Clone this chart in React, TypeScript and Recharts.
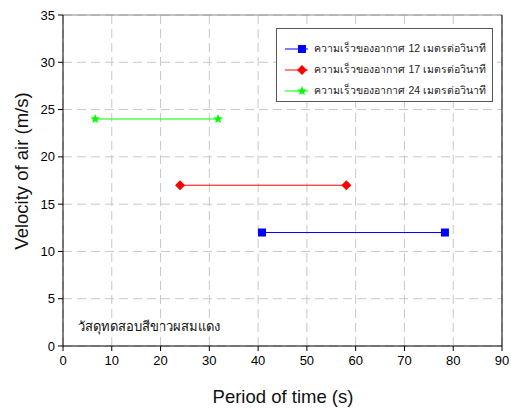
import React from "react";
import {CartesianGrid, Line, LineChart, ReferenceLine, XAxis, YAxis} from "recharts";

const xTicks = [0, 10, 20, 30, 40, 50, 60, 70, 80, 90];
const yTicks = [0, 5, 10, 15, 20, 25, 30, 35];

const blueTimes = [40.8, 78.3];
const blueSpeed = [12, 12];
const redTimes = [24.0, 58.1];
const redSpeed = [17, 17];
const greenTimes = [6.6, 31.8];
const greenSpeed = [24, 24];

const seriesNames = [
    "ความเร็วของอากาศ 12 เมตรต่อวินาที",
    "ความเร็วของอากาศ 17 เมตรต่อวินาที",
    "ความเร็วของอากาศ 24 เมตรต่อวินาที",
];
const seriesColors = ["#0000ff", "#ff0000", "#00ff00"];

const toPoints = (xs: number[], ys: number[]) => xs.map((t, i) => ({ t, v: ys[i] }));

const Square = ({ cx, cy, fill }: any) => (
    <rect x={cx - 4} y={cy - 4} width={8} height={8} fill={fill} />
);
const Diamond = ({ cx, cy, fill }: any) => (
    <polygon points={`${cx},${cy - 5} ${cx + 5},${cy} ${cx},${cy + 5} ${cx - 5},${cy}`} fill={fill} />
);
const Star = ({ cx, cy, fill }: any) => {
    const pts: string[] = [];
    for (let i = 0; i < 10; i++) {
        const r = i % 2 === 0 ? 5 : 2.2;
        const a = -Math.PI / 2 + (i * Math.PI) / 5;
        pts.push(`${cx + r * Math.cos(a)},${cy + r * Math.sin(a)}`);
    }
    return <polygon points={pts.join(" ")} fill={fill} />;
};
const markers = [Square, Diamond, Star];

const LegendBox = () => (
    <div style={{ position: "absolute", left: 276, top: 28, width: 217, height: 74, boxSizing: "border-box", border: "1px solid #555", background: "#fff", padding: "9px 6px 6px 8px" }}>
        {seriesNames.map((name, i) => {
            const M = markers[i];
            return (
                <div key={name} style={{ display: "flex", alignItems: "center", height: 21 }}>
                    <svg width={36} height={12} style={{ marginRight: 6 }}>
                        <line x1={0} y1={6} x2={34} y2={6} stroke={seriesColors[i]} strokeWidth={1} />
                        <M cx={17} cy={6} fill={seriesColors[i]} />
                    </svg>
                    <span style={{ fontSize: 10.5, color: "#222", whiteSpace: "nowrap" }}>{name}</span>
                </div>
            );
        })}
    </div>
);

export default function App() {
    const font = "Arial, 'Liberation Sans', sans-serif";
    return (
        <div style={{ position: "absolute", left: 0, top: 0, width: 511, height: 409, background: "#fff", fontFamily: font }}>
            <LineChart width={511} height={409} margin={{ top: 15, right: 9, bottom: 13, left: 13 }}>
                <CartesianGrid strokeDasharray="9 5" stroke="#c8c8c8" />
                <XAxis
                    type="number"
                    dataKey="t"
                    domain={[0, 90]}
                    ticks={xTicks}
                    allowDataOverflow
                    stroke="#000"
                    tickSize={5}
                    tickMargin={5}
                    tick={{ fill: "#000", fontSize: 13, fontFamily: font }}
                    height={50}
                />
                <YAxis
                    type="number"
                    dataKey="v"
                    domain={[0, 35]}
                    ticks={yTicks}
                    width={50}
                    stroke="#000"
                    tickSize={5}
                    tickMargin={3}
                    tick={{ fill: "#000", fontSize: 13, fontFamily: font }}
                />
                <ReferenceLine y={35} stroke="#888" />
                <ReferenceLine x={90} stroke="#000" />
                <Line data={toPoints(blueTimes, blueSpeed)} dataKey="v" stroke={seriesColors[0]} strokeWidth={1}
                      dot={(p: any) => <Square key={p.index} cx={p.cx} cy={p.cy} fill={seriesColors[0]} />}
                      isAnimationActive={false} />
                <Line data={toPoints(redTimes, redSpeed)} dataKey="v" stroke={seriesColors[1]} strokeWidth={1}
                      dot={(p: any) => <Diamond key={p.index} cx={p.cx} cy={p.cy} fill={seriesColors[1]} />}
                      isAnimationActive={false} />
                <Line data={toPoints(greenTimes, greenSpeed)} dataKey="v" stroke={seriesColors[2]} strokeWidth={1}
                      dot={(p: any) => <Star key={p.index} cx={p.cx} cy={p.cy} fill={seriesColors[2]} />}
                      isAnimationActive={false} />
            </LineChart>
            <LegendBox />
            <div style={{ position: "absolute", left: 78, top: 316, fontSize: 13, color: "#111" }}>
                วัสดุทดสอบสีขาวผสมแดง
            </div>
            <div style={{ position: "absolute", left: 0, width: 566, top: 386, textAlign: "center", fontSize: 18.5, color: "#111" }}>
                Period of time (s)
            </div>
            <div style={{ position: "absolute", left: 22, top: 171, transform: "translate(-50%, -50%) rotate(-90deg)", fontSize: 18.5, color: "#111", whiteSpace: "nowrap" }}>
                Velocity of air (m/s)
            </div>
        </div>
    );
}
